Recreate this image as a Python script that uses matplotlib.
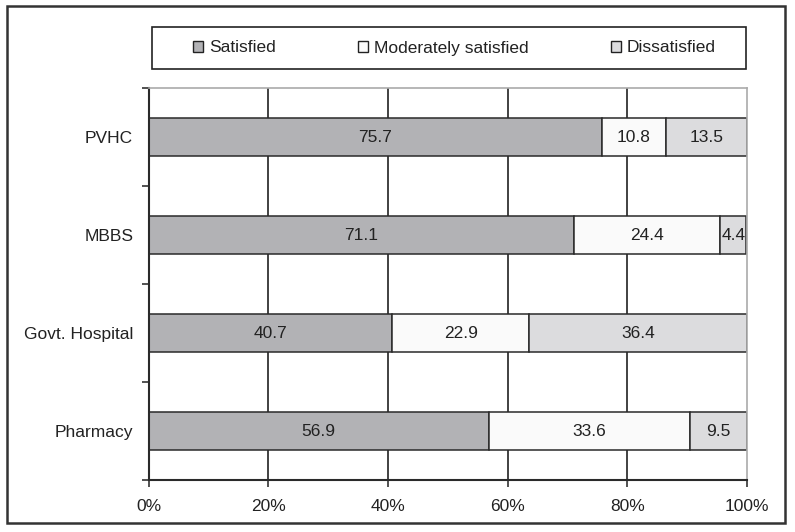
import matplotlib
matplotlib.use("Agg")
import matplotlib.pyplot as plt
from matplotlib.patches import Rectangle
import numpy as np

plt.rcParams['font.family'] = ['Liberation Sans', 'DejaVu Sans']

categories = ["PVHC", "MBBS", "Govt. Hospital", "Pharmacy"]
series_names = ["Satisfied", "Moderately satisfied", "Dissatisfied"]
satisfied = [75.7, 71.1, 40.7, 56.9]
moderately = [10.8, 24.4, 22.9, 33.6]
dissatisfied = [13.5, 4.4, 36.4, 9.5]
x_ticks = [0, 20, 40, 60, 80, 100]
x_tick_labels = ["0%", "20%", "40%", "60%", "80%", "100%"]

colors = ["#b2b2b5", "#fafafa", "#dcdcde"]
edge = "#2a2a2a"
FS = 12.5

fig = plt.figure(figsize=(7.95, 5.32), dpi=100)
W, H = 795, 532
ax = fig.add_axes([148.5 / W, 1 - 480 / H, (747 - 148.5) / W, (480 - 88) / H])

# outer border
fig.patches.append(Rectangle((6.5 / W, 1 - 523 / H), (785 - 6.5) / W, (523 - 5.5) / H,
                             transform=fig.transFigure, fill=False, edgecolor="#333333",
                             linewidth=1.8, zorder=0))
# legend box
fig.patches.append(Rectangle((152 / W, 1 - 69 / H), (746 - 152) / W, (69 - 27) / H,
                             transform=fig.transFigure, fill=False, edgecolor="#222222",
                             linewidth=1.2, zorder=0))

y = np.arange(len(categories))
ax.set_axisbelow(True)
for xv in x_ticks[1:-1]:
    ax.axvline(xv, color="#333333", linewidth=1.3, zorder=0)

left = np.zeros(len(categories))
series = [satisfied, moderately, dissatisfied]
for vals, name, c in zip(series, series_names, colors):
    vals = np.array(vals)
    ax.barh(y, vals, left=left, height=0.39, color=c, edgecolor=edge,
            linewidth=1.1, label=name, zorder=2)
    for yi, l, v in zip(y, left, vals):
        ax.text(l + v / 2, yi, f"{v:.1f}", ha="center", va="center",
                fontsize=FS, color="#222222", zorder=3)
    left = left + vals

ax.set_xlim(0, 100)
ax.set_ylim(len(categories) - 0.5, -0.5)
ax.set_xticks(x_ticks)
ax.set_xticklabels(x_tick_labels, fontsize=FS, color="#222222")
ax.set_yticks(y)
ax.set_yticklabels(categories, fontsize=FS, color="#222222")
ax.set_yticks(np.arange(-0.5, len(categories), 1.0), minor=True)
ax.tick_params(axis="y", which="major", length=0, pad=11)
ax.tick_params(axis="y", which="minor", length=5, width=1.2, color="#333333", direction="out")
ax.tick_params(axis="x", which="major", length=5, width=1.2, color="#333333", direction="out", pad=9)

for s in ["left", "bottom"]:
    ax.spines[s].set_color("#2a2a2a")
    ax.spines[s].set_linewidth(1.5)
for s in ["top", "right"]:
    ax.spines[s].set_color("#aaaaaa")
    ax.spines[s].set_linewidth(1.2)

lx0, lx1 = 193 / W, 716 / W
leg = fig.legend(loc="center", bbox_to_anchor=(lx0, 1 - 61 / H, lx1 - lx0, 26 / H),
                 mode="expand", ncol=3, frameon=False, fontsize=FS,
                 handlelength=0.6, handleheight=0.6, handletextpad=0.35,
                 borderpad=0.0, borderaxespad=0.0)
for h in leg.legend_handles:
    h.set_edgecolor("#222222")
    h.set_linewidth(1.0)
for t in leg.get_texts():
    t.set_color("#222222")

fig.savefig("out.png", dpi=100)
